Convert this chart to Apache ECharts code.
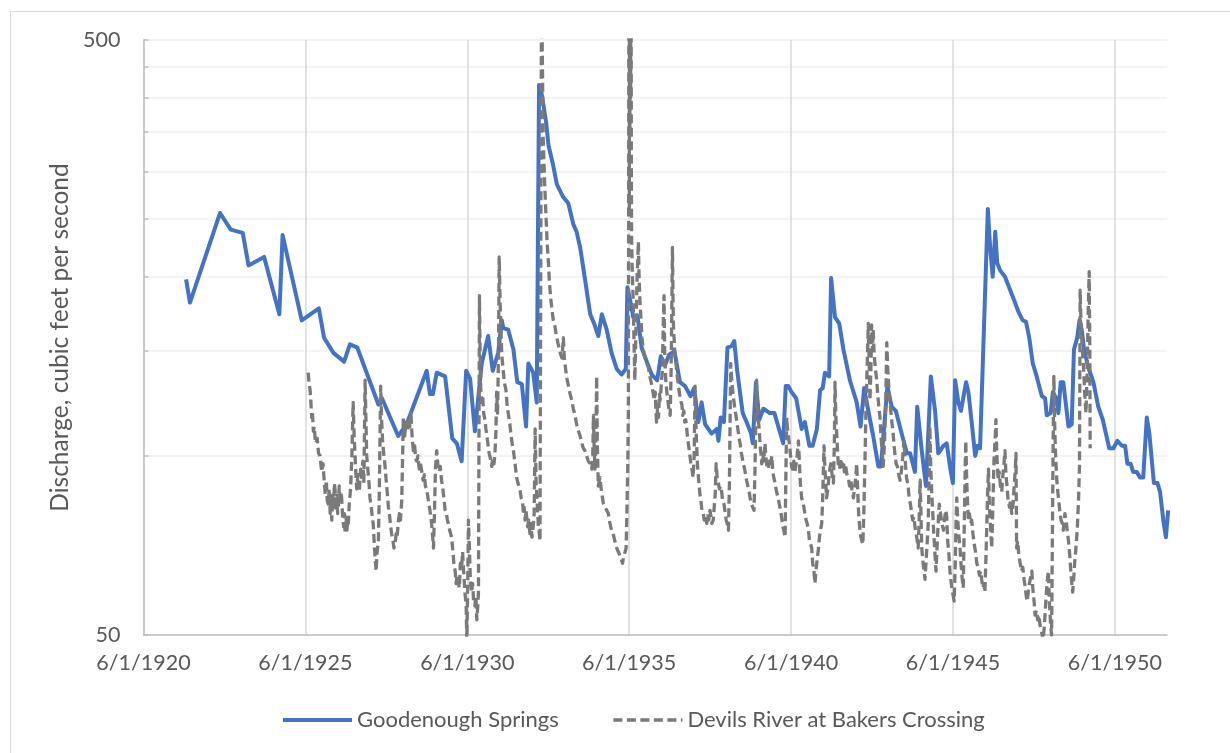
<!DOCTYPE html>
<html>
<head>
<meta charset="utf-8">
<title>Goodenough Springs and Devils River discharge</title>
<script src="https://cdn.jsdelivr.net/npm/echarts@6/dist/echarts.min.js"></script>
<style>
  html, body { margin: 0; padding: 0; background: #ffffff; }
  #frame { position: absolute; left: 10px; top: 11px; width: 1240px; height: 760px;
           border: 1.5px solid #d9d9d9; box-sizing: border-box; }
  #chart { position: absolute; left: 0; top: 0; width: 1230px; height: 753px; }
</style>
</head>
<body>
<div id="frame"></div>
<div id="chart"></div>
<script>
// Discharge records, [decimal year, cubic feet per second]
const goodenoughFlow = [
  [1921.73,198],[1921.85,181],[1922.78,256],[1923.11,240],[1923.48,237],[1923.66,209],[1924.14,216],
  [1924.61,173],[1924.71,235],[1925.30,169],[1925.83,177],[1925.99,158],[1926.28,149],[1926.61,144],
  [1926.79,154],[1927.02,152],[1927.67,122],[1927.78,125],[1928.28,108],[1928.54,113],[1929.16,139],
  [1929.26,127],[1929.35,127],[1929.47,138],[1929.73,136],[1929.95,107],[1930.09,105],[1930.24,98],
  [1930.38,139],[1930.50,135],[1930.65,110],[1930.86,143],[1931.06,159],[1931.20,139],[1931.37,149],
  [1931.48,169],[1931.53,164],[1931.68,163],[1931.84,151],[1931.96,133],[1932.10,132],[1932.23,112],
  [1932.30,143],[1932.45,138],[1932.56,123],[1932.63,420],[1932.68,416],[1932.85,363],[1932.92,333],
  [1933.07,307],[1933.18,286],[1933.38,272],[1933.53,266],[1933.69,245],[1933.79,238],[1933.90,224],
  [1934.05,198],[1934.21,173],[1934.33,167],[1934.46,159],[1934.57,173],[1934.72,163],[1934.87,149],
  [1935.03,140],[1935.18,137],[1935.31,140],[1935.36,192],[1935.46,181],[1935.54,171],[1935.67,172],
  [1935.80,152],[1935.96,144],[1936.11,137],[1936.28,134],[1936.39,147],[1936.52,142],[1936.65,148],
  [1936.81,150],[1936.98,133],[1937.14,131],[1937.31,126],[1937.42,130],[1937.55,114],[1937.65,123],
  [1937.76,113],[1937.96,109],[1938.12,111],[1938.17,106],[1938.24,116],[1938.34,114],[1938.45,152],
  [1938.58,153],[1938.66,156],[1938.75,139],[1938.92,118],[1939.04,114],[1939.18,109],[1939.23,105],
  [1939.33,133],[1939.43,115],[1939.56,120],[1939.76,118],[1939.90,118],[1940.17,105],[1940.25,131],
  [1940.33,131],[1940.43,128],[1940.57,125],[1940.74,111],[1940.84,114],[1940.98,104],[1941.08,104],
  [1941.21,111],[1941.31,129],[1941.39,130],[1941.46,138],[1941.59,136],[1941.65,199],[1941.77,171],
  [1941.90,167],[1942.03,151],[1942.23,134],[1942.44,123],[1942.56,112],[1942.67,130],[1942.80,119],
  [1942.95,108],[1943.11,96],[1943.19,96],[1943.39,131],[1943.52,121],[1943.65,119],[1943.83,109],
  [1943.99,101],[1944.09,101],[1944.24,94],[1944.31,121],[1944.45,102],[1944.58,89],[1944.73,136],
  [1944.86,119],[1944.96,101],[1945.12,104],[1945.22,105],[1945.32,96],[1945.41,90],[1945.48,134],
  [1945.58,123],[1945.66,119],[1945.82,133],[1945.89,128],[1945.99,114],[1946.10,100],[1946.17,104],
  [1946.25,103],[1946.49,260],[1946.56,225],[1946.64,200],[1946.72,238],[1946.78,211],[1946.87,205],
  [1947.02,200],[1947.18,190],[1947.33,181],[1947.43,175],[1947.57,169],[1947.67,168],[1947.77,158],
  [1947.88,143],[1948.00,136],[1948.16,126],[1948.26,125],[1948.31,117],[1948.43,118],[1948.50,128],
  [1948.60,125],[1948.67,118],[1948.74,133],[1948.82,133],[1948.98,112],[1949.08,113],[1949.15,151],
  [1949.25,158],[1949.32,169],[1949.39,163],[1949.46,151],[1949.59,141],[1949.75,133],[1949.90,121],
  [1950.04,115],[1950.24,103],[1950.37,103],[1950.49,106],[1950.63,104],[1950.73,104],[1950.80,97],
  [1950.90,97],[1950.98,94],[1951.09,94],[1951.19,92],[1951.29,92],[1951.40,116],[1951.48,109],
  [1951.62,90],[1951.73,90],[1951.81,87],[1951.91,78],[1951.99,73],[1952.06,81]
];

const devilsRiverFlow = [
  // 1925 - 1930
  [1925.50,138],[1925.53,132],[1925.56,129],[1925.58,124],[1925.61,116],[1925.63,119],[1925.66,110],
  [1925.69,112],[1925.72,106],[1925.74,105],[1925.78,107],[1925.82,101],[1925.87,100],[1925.90,96],
  [1925.92,94],[1925.96,97],[1926.00,90],[1926.03,86],[1926.06,91],[1926.09,84],[1926.12,83],
  [1926.15,88],[1926.18,80],[1926.21,85],[1926.23,78],[1926.26,86],[1926.29,82],[1926.31,90],
  [1926.33,88],[1926.36,81],[1926.39,86],[1926.41,80],[1926.43,82],[1926.46,89],[1926.49,83],
  [1926.52,87],[1926.54,84],[1926.57,78],[1926.60,76],[1926.62,80],[1926.64,74],[1926.67,79],
  [1926.70,75],[1926.72,78],[1926.74,77],[1926.77,83],[1926.81,88],[1926.85,100],[1926.89,123],
  [1926.92,108],[1926.95,100],[1926.98,92],[1927.00,88],[1927.04,93],[1927.08,87],[1927.12,95],
  [1927.15,92],[1927.19,98],[1927.22,90],[1927.26,134],[1927.29,112],[1927.31,100],[1927.35,94],
  [1927.38,90],[1927.41,85],[1927.45,82],[1927.48,79],[1927.51,77],[1927.55,70],[1927.58,66],
  [1927.60,64],[1927.63,69],[1927.67,72],[1927.70,88],[1927.74,131],[1927.77,115],[1927.80,106],
  [1927.84,100],[1927.87,97],[1927.91,91],[1927.95,86],[1927.98,82],[1928.02,79],[1928.05,76],
  [1928.08,74],[1928.12,72],[1928.15,70],[1928.18,71],[1928.22,74],[1928.25,73],[1928.28,77],
  [1928.32,80],[1928.35,78],[1928.39,84],[1928.41,95],[1928.44,116],[1928.48,108],[1928.51,112],
  [1928.54,114],[1928.58,110],[1928.61,116],[1928.64,112],[1928.67,119],[1928.70,110],[1928.72,106],
  [1928.75,102],[1928.79,104],[1928.82,99],[1928.85,98],[1928.89,100],[1928.93,95],[1928.97,97],
  [1929.01,94],[1929.05,91],[1929.09,93],[1929.12,89],[1929.16,88],[1929.20,85],[1929.23,83],
  [1929.26,81],[1929.30,78],[1929.33,75],[1929.37,70],[1929.40,80],[1929.43,95],[1929.47,102],
  [1929.51,96],[1929.55,94],[1929.58,96],[1929.62,91],[1929.66,88],[1929.70,84],[1929.73,81],
  [1929.77,80],[1929.80,78],[1929.83,77],[1929.87,75],[1929.90,74],[1929.93,73],[1929.97,69],
  [1930.00,66],[1930.04,64],[1930.07,61],[1930.10,63],[1930.14,63],[1930.17,60],[1930.20,66],
  [1930.24,65],[1930.27,69],[1930.31,63],[1930.34,59],[1930.38,56],[1930.40,49],[1930.43,62],
  [1930.45,78],[1930.48,70],[1930.51,62],[1930.55,59],[1930.58,61],[1930.61,57],[1930.65,56],
  [1930.68,58],[1930.71,53],[1930.74,56],[1930.76,59],
  // 1930 - 1935
  [1930.79,186],[1930.81,150],[1930.83,130],[1930.86,123],[1930.89,126],[1930.92,118],[1930.96,115],
  [1930.99,111],[1931.02,108],[1931.06,104],[1931.09,101],[1931.13,99],[1931.17,96],[1931.20,99],
  [1931.24,97],[1931.27,101],[1931.30,110],[1931.32,128],[1931.35,118],[1931.38,150],[1931.40,216],
  [1931.43,180],[1931.46,160],[1931.48,148],[1931.52,140],[1931.56,133],[1931.61,129],[1931.65,121],
  [1931.69,117],[1931.73,113],[1931.77,108],[1931.80,105],[1931.84,102],[1931.88,98],[1931.91,95],
  [1931.94,92],[1931.98,90],[1932.01,89],[1932.04,88],[1932.08,85],[1932.12,84],[1932.15,80],
  [1932.17,82],[1932.20,78],[1932.23,81],[1932.25,79],[1932.28,76],[1932.31,78],[1932.35,74],
  [1932.38,77],[1932.41,73],[1932.45,76],[1932.48,80],[1932.51,111],[1932.54,90],[1932.58,82],
  [1932.61,76],[1932.64,74],[1932.66,72],[1932.69,300],[1932.71,720],[1932.73,480],[1932.76,340],
  [1932.80,290],[1932.85,249],[1932.88,228],[1932.92,211],[1932.95,196],[1932.99,184],[1933.03,176],
  [1933.07,169],[1933.12,165],[1933.16,160],[1933.21,155],[1933.26,151],[1933.30,148],[1933.34,146],
  [1933.38,158],[1933.41,146],[1933.45,140],[1933.49,135],[1933.54,131],[1933.59,127],[1933.64,124],
  [1933.69,120],[1933.74,117],[1933.79,113],[1933.85,110],[1933.90,108],[1933.95,105],[1934.00,103],
  [1934.05,102],[1934.10,100],[1934.15,98],[1934.21,97],[1934.26,95],[1934.29,100],[1934.31,117],
  [1934.33,104],[1934.36,95],[1934.39,110],[1934.41,136],[1934.43,105],[1934.46,89],[1934.51,92],
  [1934.56,87],[1934.62,83],[1934.67,82],[1934.72,81],[1934.77,80],[1934.82,77],[1934.87,75],
  [1934.92,74],[1934.97,72],[1935.03,70],[1935.08,69],[1935.13,68],[1935.17,67],[1935.21,66],
  [1935.25,68],[1935.29,69],[1935.32,70],[1935.34,78],[1935.37,95],[1935.39,118],
  // 1935 flood and recession
  [1935.41,900],[1935.42,260],[1935.43,1800],[1935.44,350],[1935.45,3000],[1935.46,400],[1935.47,1500],
  [1935.48,330],[1935.49,230],[1935.51,205],[1935.54,181],[1935.57,150],[1935.59,134],[1935.62,160],
  [1935.66,200],[1935.70,229],[1935.72,200],[1935.75,181],[1935.78,170],[1935.81,158],[1935.85,151],
  [1935.89,147],[1935.93,144],[1935.97,143],[1936.01,141],[1936.04,137],[1936.08,134],[1936.12,131],
  [1936.16,130],[1936.19,124],[1936.22,128],[1936.24,119],[1936.26,114],[1936.29,120],[1936.32,116],
  [1936.35,127],[1936.37,124],[1936.40,130],[1936.44,140],[1936.47,170],[1936.49,186],[1936.51,150],
  [1936.54,135],[1936.57,129],[1936.60,125],[1936.64,120],[1936.68,117],[1936.71,140],[1936.75,224],
  [1936.77,180],[1936.78,166],[1936.82,150],[1936.85,145],[1936.88,139],[1936.92,133],[1936.96,128],
  [1937.00,124],[1937.04,122],[1937.07,117],[1937.10,119],[1937.13,114],[1937.16,115],[1937.19,111],
  [1937.22,107],[1937.25,104],[1937.29,100],[1937.32,97],[1937.35,95],[1937.39,92],[1937.42,100],
  [1937.45,131],[1937.48,110],[1937.52,97],[1937.56,91],[1937.60,86],[1937.63,84],[1937.66,81],
  [1937.70,80],[1937.73,78],[1937.77,79],[1937.81,77],[1937.84,80],[1937.87,78],[1937.91,81],
  [1937.94,79],[1937.97,77],[1938.01,78],[1938.04,82],[1938.07,86],[1938.10,97],[1938.13,92],
  [1938.17,90],[1938.20,88],[1938.24,89],[1938.27,87],[1938.30,84],[1938.34,83],[1938.37,81],
  [1938.41,78],[1938.44,77],[1938.48,75],[1938.51,90],
  // 1938 - 1941
  [1938.55,143],[1938.59,132],[1938.63,126],[1938.67,121],[1938.70,118],[1938.74,114],[1938.78,110],
  [1938.81,107],[1938.84,105],[1938.88,101],[1938.91,99],[1938.94,97],[1938.98,95],[1939.01,93],
  [1939.04,91],[1939.08,89],[1939.12,87],[1939.15,85],[1939.19,83],[1939.23,82],[1939.27,81],
  [1939.30,95],[1939.33,120],[1939.35,134],[1939.38,120],[1939.41,114],[1939.43,111],[1939.46,104],
  [1939.49,100],[1939.51,97],[1939.54,101],[1939.57,98],[1939.61,105],[1939.64,99],[1939.67,96],
  [1939.71,95],[1939.74,98],[1939.78,96],[1939.82,100],[1939.85,94],[1939.88,92],[1939.92,90],
  [1939.95,88],[1939.99,86],[1940.02,85],[1940.05,83],[1940.09,81],[1940.12,79],[1940.16,76],
  [1940.19,75],[1940.23,73],[1940.25,90],[1940.28,116],[1940.31,110],[1940.34,107],[1940.36,105],
  [1940.40,100],[1940.43,96],[1940.46,95],[1940.50,98],[1940.53,94],[1940.57,97],[1940.60,100],
  [1940.64,106],[1940.67,98],[1940.70,90],[1940.74,85],[1940.77,84],[1940.81,82],[1940.84,80],
  [1940.88,78],[1940.91,77],[1940.95,75],[1940.98,72],[1941.02,71],[1941.05,70],[1941.08,66],
  [1941.12,64],[1941.15,61],[1941.18,64],[1941.22,67],[1941.26,70],[1941.29,73],[1941.32,75],
  [1941.36,77],[1941.39,85],[1941.43,104],[1941.46,95],[1941.49,89],[1941.51,85],[1941.55,88],
  [1941.58,92],[1941.61,95],[1941.64,97],[1941.68,93],[1941.72,90],[1941.75,105],
  // 1941 - 1943
  [1941.77,133],[1941.80,115],[1941.84,104],[1941.87,97],[1941.91,95],[1941.95,99],[1941.99,96],
  [1942.03,98],[1942.06,94],[1942.10,96],[1942.14,93],[1942.18,92],[1942.22,89],[1942.26,91],
  [1942.30,87],[1942.34,85],[1942.37,88],[1942.41,92],[1942.44,97],[1942.47,88],[1942.50,80],
  [1942.54,75],[1942.57,73],[1942.60,72],[1942.63,71],[1942.66,80],[1942.70,100],[1942.73,123],
  [1942.77,145],[1942.80,167],[1942.83,140],[1942.85,124],[1942.88,140],[1942.90,166],[1942.93,150],
  [1942.95,163],[1942.98,148],[1943.02,140],[1943.06,134],[1943.09,127],[1943.13,120],[1943.16,116],
  [1943.19,108],[1943.23,101],[1943.26,96],[1943.30,105],[1943.34,125],
  // 1943 - 1946
  [1943.37,155],[1943.40,140],[1943.42,134],[1943.45,126],[1943.49,120],[1943.52,115],[1943.56,110],
  [1943.59,105],[1943.62,101],[1943.66,97],[1943.70,96],[1943.74,93],[1943.78,91],[1943.82,94],
  [1943.86,99],[1943.90,106],[1943.94,98],[1943.98,92],[1944.03,89],[1944.06,85],[1944.10,83],
  [1944.14,80],[1944.17,78],[1944.21,79],[1944.24,76],[1944.28,74],[1944.31,72],[1944.34,70],
  [1944.37,78],[1944.40,91],[1944.43,78],[1944.45,70],[1944.48,67],[1944.52,64],[1944.55,62],
  [1944.58,66],[1944.62,72],[1944.65,77],[1944.68,95],[1944.70,112],[1944.73,95],[1944.76,86],
  [1944.79,80],[1944.82,74],[1944.86,68],[1944.89,64],[1944.92,70],[1944.96,78],[1944.99,83],
  [1945.03,80],[1945.07,77],[1945.12,75],[1945.15,78],[1945.19,81],[1945.22,79],[1945.25,72],
  [1945.29,68],[1945.32,64],[1945.36,61],[1945.40,59],[1945.45,57],[1945.48,65],[1945.51,78],
  [1945.53,85],[1945.56,78],[1945.60,73],[1945.63,70],[1945.66,66],[1945.70,62],[1945.73,60],
  [1945.76,75],[1945.79,95],[1945.81,106],[1945.84,90],[1945.87,82],[1945.89,78],[1945.92,80],
  [1945.96,77],[1945.99,78],[1946.03,74],[1946.07,71],[1946.11,69],[1946.15,66],[1946.19,65],
  [1946.23,63],[1946.27,64],[1946.30,62],[1946.34,60],[1946.37,61],[1946.40,59],[1946.44,70],
  [1946.48,85],
  // 1946 - 1949
  [1946.51,95],[1946.54,82],[1946.58,75],[1946.61,70],[1946.64,80],[1946.68,98],[1946.71,105],
  [1946.74,115],[1946.77,100],[1946.81,91],[1946.84,94],[1946.88,89],[1946.92,87],[1946.95,92],
  [1946.99,97],[1947.02,102],[1947.05,93],[1947.09,88],[1947.12,84],[1947.16,82],[1947.19,84],
  [1947.23,80],[1947.27,83],[1947.31,90],[1947.34,95],[1947.36,101],[1947.38,70],[1947.41,72],
  [1947.45,68],[1947.49,66],[1947.53,64],[1947.57,65],[1947.61,62],[1947.65,60],[1947.68,58],
  [1947.71,57],[1947.75,60],[1947.80,62],[1947.85,64],[1947.88,60],[1947.92,57],[1947.95,54],
  [1947.99,55],[1948.03,53],[1948.07,54],[1948.10,52],[1948.14,51],[1948.17,50],[1948.20,49],
  [1948.24,52],[1948.29,58],[1948.33,62],[1948.36,64],[1948.39,57],[1948.43,52],[1948.46,50],
  [1948.49,80],[1948.51,110],[1948.53,136],[1948.56,110],[1948.59,98],[1948.62,91],[1948.66,86],
  [1948.69,83],[1948.72,80],[1948.75,78],[1948.79,77],[1948.82,75],[1948.85,78],[1948.87,80],
  [1948.91,78],[1948.94,75],[1948.98,72],[1949.02,68],[1949.06,63],[1949.11,59],[1949.14,62],
  [1949.17,66],[1949.21,70],[1949.25,75],[1949.29,84],[1949.32,96],[1949.34,190],[1949.37,165],
  [1949.41,150],[1949.44,143],[1949.48,128],[1949.52,118],[1949.56,140],[1949.59,175],[1949.62,204],
  [1949.64,150],[1949.65,103]
];

// Axis ticks
const dateTicks = ['1920-06-01','1925-06-01','1930-06-01','1935-06-01','1940-06-01','1945-06-01','1950-06-01'];
const dateRange = ['1920-06-01', '1952-01-10'];
const flowLabels = [50, 500];
const flowGrid = [50, 100, 150, 200, 250, 300, 350, 400, 450, 500];

const seriesNames = ['Goodenough Springs', 'Devils River at Bakers Crossing'];
const axisTitle = 'Discharge, cubic feet per second';

// decimal year -> UTC timestamp
function yearToTime(y) {
  const Y = Math.floor(y);
  const a = Date.UTC(Y, 0, 1), b = Date.UTC(Y + 1, 0, 1);
  return a + (y - Y) * (b - a);
}
function isoToTime(s) {
  const p = s.split('-').map(Number);
  return Date.UTC(p[0], p[1] - 1, p[2]);
}
function fmtDate(v) {
  const d = new Date(v);
  return (d.getUTCMonth() + 1) + '/' + d.getUTCDate() + '/' + d.getUTCFullYear();
}

const TEXT = '#595959';
const FONT = 'Lato';
const tickTimes = dateTicks.map(isoToTime);

const chart = echarts.init(document.getElementById('chart'), null, { renderer: 'canvas' });
chart.setOption({
  animation: false,
  backgroundColor: 'transparent',
  grid: { left: 143.5, right: 63, top: 40, bottom: 118 },
  legend: {
    data: seriesNames,
    left: 276,
    top: 702,
    itemWidth: 69,
    itemHeight: 14,
    itemGap: 53,
    itemStyle: { opacity: 0 },
    lineStyle: { width: 'inherit' },
    textStyle: { color: TEXT, fontFamily: FONT, fontSize: 22, lineHeight: 26 }
  },
  xAxis: {
    // time in milliseconds on a linear scale, ticks on June 1 every five years
    type: 'value',
    min: isoToTime(dateRange[0]),
    max: isoToTime(dateRange[1]),
    axisLine: { show: true, lineStyle: { color: '#bfbfbf', width: 1.5 } },
    axisTick: { show: false, customValues: tickTimes },
    axisLabel: {
      customValues: tickTimes,
      formatter: fmtDate,
      color: TEXT, fontFamily: FONT, fontSize: 21.5, margin: 17,
      showMinLabel: true, showMaxLabel: true, hideOverlap: false
    },
    splitLine: { show: true, lineStyle: { color: '#d9d9d9', width: 1.5 } }
  },
  yAxis: {
    type: 'log',
    logBase: 10,
    min: 50,
    max: 500,
    name: axisTitle,
    nameLocation: 'middle',
    nameRotate: 90,
    nameGap: 67,
    nameTextStyle: { color: TEXT, fontFamily: FONT, fontSize: 24.5 },
    axisLine: { show: true, lineStyle: { color: '#bfbfbf', width: 1.5 } },
    axisTick: { show: true, inside: true, length: 5, customValues: flowGrid,
                lineStyle: { color: '#bfbfbf', width: 1.5 } },
    axisLabel: {
      customValues: flowLabels,
      formatter: v => String(Math.round(v)),
      color: TEXT, fontFamily: FONT, fontSize: 21.5, margin: 23
    },
    splitLine: { show: true, lineStyle: { color: '#f0f0f0', width: 1.5 } }
  },
  series: [
    {
      name: seriesNames[0],
      type: 'line',
      data: goodenoughFlow.map(p => [yearToTime(p[0]), p[1]]),
      symbol: 'none',
      clip: true,
      lineStyle: { color: '#4472c4', width: 4, join: 'round' },
      itemStyle: { color: '#4472c4' },
      z: 2
    },
    {
      name: seriesNames[1],
      type: 'line',
      data: devilsRiverFlow.map(p => [yearToTime(p[0]), p[1]]),
      symbol: 'none',
      clip: true,
      lineStyle: { color: '#7a7a7a', width: 3.3, type: [9, 4.5], join: 'round' },
      itemStyle: { color: '#7a7a7a' },
      z: 3
    }
  ]
});
</script>
</body>
</html>
